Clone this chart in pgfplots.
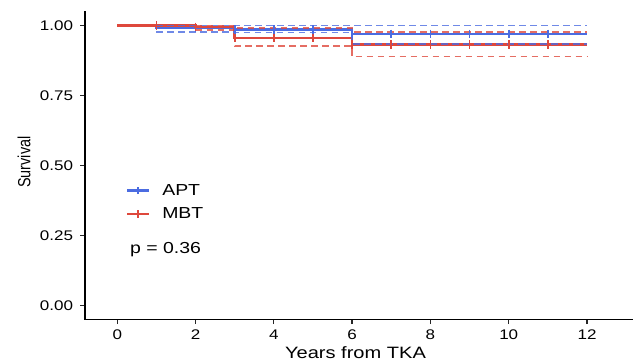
\documentclass[border=0pt]{standalone}
\usepackage{pgfplots}
\pgfplotsset{compat=1.18}
\usepackage{pgfplotstable}
\usepackage{graphicx}
\usepackage{fontspec}
\setmainfont{Liberation Sans}[FakeStretch=1.22]
\newfontfamily\plainfont{Liberation Sans}
\definecolor{aptblue}{RGB}{75,108,225}
\definecolor{mbtred}{RGB}{222,72,60}

\pgfplotstableread{
t s
0 1.000
1 0.992
3 0.985
6 0.970
12 0.970
}\aptmain
\pgfplotstableread{
t s
1 1.000
12 1.000
}\aptup
\pgfplotstableread{
t s
1 0.978
3 0.975
6 0.935
12 0.935
}\aptlo
\pgfplotstableread{
t s
2 0.992
3 0.985
4 0.985
5 0.985
6 0.970
7 0.970
8 0.970
9 0.970
10 0.970
11 0.970
}\aptcens
\pgfplotstableread{
t s
0 1.000
2 0.995
3 0.955
6 0.932
12 0.932
}\mbtmain
\pgfplotstableread{
t s
2 1.000
3 0.990
6 0.978
12 0.978
}\mbtup
\pgfplotstableread{
t s
2 0.985
3 0.926
6 0.889
12 0.889
}\mbtlo
\pgfplotstableread{
t s
1 1.000
2 0.995
3 0.955
4 0.955
5 0.955
6 0.932
7 0.932
8 0.932
9 0.932
10 0.932
11 0.932
}\mbtcens

\begin{document}
\begin{tikzpicture}
\begin{axis}[
  name=ax,
  scale only axis, width=548bp, height=308bp,
  xmin=-0.824, xmax=13.175, ymin=-0.05, ymax=1.05,
  axis x line*=bottom, axis y line*=left,
  axis line style={black, line width=1.4bp, -},
  xtick={0,2,4,6,8,10,12}, xticklabels={0,2,4,6,8,10,12},
  ytick={0,0.25,0.5,0.75,1}, yticklabels={0.00,0.25,0.50,0.75,1.00},
  tick align=outside, major tick length=4.5bp,
  every tick/.style={black!85, line width=1.3bp},
  ticklabel style={font=\fontsize{14}{16}\selectfont, inner sep=0pt},
  xticklabel style={yshift=-6bp},
  yticklabel style={xshift=-7.2bp},
  xlabel={Years from TKA}, ylabel={\scalebox{1}[1.22]{Survival}},
  xlabel style={font=\fontsize{16.5}{19}\selectfont, at={(rel axis cs:0.4936,-0.1065)}, anchor=center},
  ylabel style={font=\plainfont\fontsize{14.5}{16}\selectfont, at={(rel axis cs:-0.1113,0.511)}, anchor=center},
  legend style={at={(rel axis cs:0.075,0.44)}, anchor=north west, draw=none, fill=none,
    inner sep=0pt, font=\fontsize{16}{19}\selectfont, row sep=11bp, column sep=12bp,
    nodes={inner sep=0pt}},
  legend cell align=left,
  main/.style={const plot, line width=2.4bp},
  ci/.style={const plot, line width=1.7bp, dash pattern=on 6.5bp off 4.5bp, opacity=0.8},
  cens/.style={only marks, mark=|, mark size=4.2bp, line width=1.8bp},
]
\addplot[main, aptblue, forget plot] table[x=t,y=s] {\aptmain};
\addplot[main, mbtred, forget plot] table[x=t,y=s] {\mbtmain};
\addplot[ci, aptblue, forget plot] table[x=t,y=s] {\aptup};
\addplot[ci, aptblue, forget plot] table[x=t,y=s] {\aptlo};
\addplot[ci, mbtred, forget plot] table[x=t,y=s] {\mbtup};
\addplot[ci, mbtred, forget plot] table[x=t,y=s] {\mbtlo};
\addplot[cens, aptblue, forget plot] table[x=t,y=s] {\aptcens};
\addplot[cens, mbtred, forget plot] table[x=t,y=s] {\mbtcens};
\addlegendimage{legend image code/.code={\draw[aptblue, line width=2.4bp] (0bp,0bp) -- (21.6bp,0bp); \draw[aptblue, line width=1.8bp] (10.8bp,-3.8bp) -- (10.8bp,3.8bp);}}
\addlegendentry{APT}
\addlegendimage{legend image code/.code={\draw[mbtred, line width=2.4bp] (0bp,0bp) -- (21.6bp,0bp); \draw[mbtred, line width=1.8bp] (10.8bp,-3.8bp) -- (10.8bp,3.8bp);}}
\addlegendentry{MBT}
\node[anchor=west, inner sep=0pt, font=\fontsize{16}{19}\selectfont] at (axis cs:0.325,0.199) {p = 0.36};
\end{axis}
\pgfresetboundingbox
\path[use as bounding box] ([shift={(-85bp,-43.5bp)}]ax.south west) rectangle ([shift={(0bp,11.5bp)}]ax.north east);
\end{tikzpicture}
\end{document}
